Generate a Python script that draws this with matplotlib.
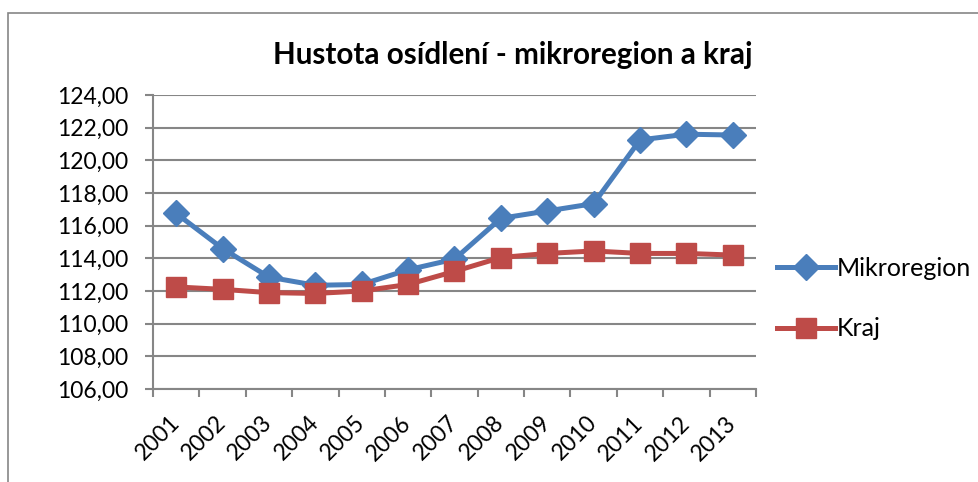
import matplotlib
matplotlib.use("Agg")
import matplotlib.pyplot as plt
from matplotlib.patches import Rectangle
from matplotlib.transforms import ScaledTranslation

years = ["2001", "2002", "2003", "2004", "2005", "2006", "2007",
         "2008", "2009", "2010", "2011", "2012", "2013"]
mikroregion = [116.75, 114.6, 112.85, 112.35, 112.4, 113.3, 113.95,
               116.45, 116.9, 117.35, 121.25, 121.6, 121.55]
kraj = [112.25, 112.1, 111.9, 111.85, 112.0, 112.4, 113.2,
        114.05, 114.3, 114.45, 114.3, 114.3, 114.2]
yticks = [106, 108, 110, 112, 114, 116, 118, 120, 122, 124]

plt.rcParams['font.family'] = ['Lato', 'DejaVu Sans']

fig = plt.figure(figsize=(9.79, 4.82), dpi=100)
# outer chart frame (cut off at right and bottom)
fig.patches.append(Rectangle((8 / 979, -0.1), 1.2, 1 - 13 / 482 + 0.1,
                             transform=fig.transFigure, fill=False,
                             edgecolor='#868686', linewidth=1.2))

ax = fig.add_axes([153 / 979, 1 - 389 / 482, (756 - 153) / 979, (389 - 95) / 482])
x = list(range(len(years)))
grid_c = '#868686'
ax.plot(x, mikroregion, color='#4A7EBB', lw=3.6, marker='D', ms=13,
        label='Mikroregion', solid_joinstyle='round')
ax.plot(x, kraj, color='#BE4B48', lw=3.6, marker='s', ms=14,
        label='Kraj', solid_joinstyle='round')

ax.set_xlim(-0.5, len(years) - 0.5)
ax.set_ylim(106, 124)
ax.set_yticks(yticks)
ax.set_yticklabels([f"{v:.2f}".replace('.', ',') for v in yticks], fontsize=16.5)
ax.yaxis.grid(True, color=grid_c, lw=1.5)
ax.set_axisbelow(True)
ax.set_xticks(x)
ax.set_xticklabels(years, rotation=45, ha='right', va='center',
                   rotation_mode='anchor', fontsize=16.5)
off = ScaledTranslation(0.09, 0, fig.dpi_scale_trans)
for lab in ax.get_xticklabels():
    lab.set_transform(lab.get_transform() + off)
ax.set_xticks([i - 0.5 for i in range(len(years) + 1)], minor=True)
ax.tick_params(axis='x', which='major', length=0, pad=22)
ax.tick_params(axis='x', which='minor', length=6, width=1.5, color=grid_c, direction='out')
ax.tick_params(axis='y', length=6, width=1.5, color=grid_c, direction='out', pad=12)
for s in ['top', 'right']:
    ax.spines[s].set_visible(False)
for s in ['left', 'bottom']:
    ax.spines[s].set_color(grid_c)
    ax.spines[s].set_linewidth(1.5)

fig.text(513 / 979, 1 - 55 / 482, "Hustota osídlení - mikroregion a kraj",
         ha='center', va='center', fontsize=21.3, fontweight='bold')

leg = ax.legend(loc='center left', bbox_to_anchor=(777 / 979, 1 - 298.5 / 482),
                bbox_transform=fig.transFigure, frameon=False, fontsize=18,
                handlelength=2.3, handletextpad=0.1, labelspacing=1.5,
                borderaxespad=0, borderpad=0)

fig.savefig("out.png", dpi=100)
